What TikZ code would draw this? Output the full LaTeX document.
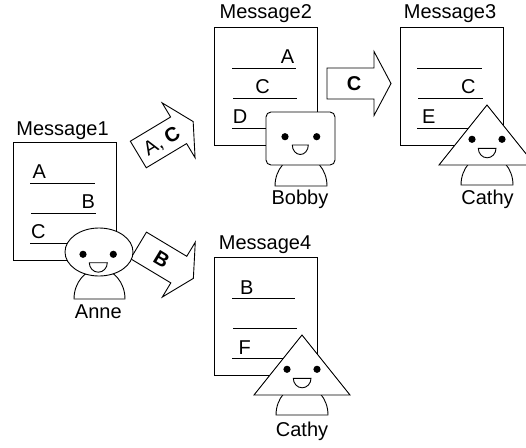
\documentclass[tikz,border=0pt]{standalone}
\usepackage{fontspec}
\setmainfont{Liberation Sans}
\usetikzlibrary{shapes.geometric}
\begin{document}
\begin{tikzpicture}[x=1pt,y=-1pt,
  font=\fontsize{20}{24}\selectfont,
  msgbox/.style={draw, line width=0.9pt, fill=white, inner sep=0pt,
    minimum width=103pt, minimum height=118pt, anchor=north west},
  rule/.style={line width=0.8pt},
  lbl/.style={inner sep=0pt, anchor=base},
  fig/.style={draw, line width=0.9pt, fill=white},
  head/.style={fig, inner sep=0pt},
  eye/.style={fill=black},
  blockarrow/.style={draw, line width=0.9pt, fill=white, line join=miter},
  arrowtext/.style={inner sep=0pt, text height=14pt, text depth=0pt},
  pics/sendarrow/.style={code={
    \draw[blockarrow] (0,-15.5) -- (47,-15.5) -- (47,-32) -- (64,0)
      -- (47,32) -- (47,15.5) -- (0,15.5) -- cycle;}}
]
\clip (0,0) rectangle (526,447);

% ---------- block arrows (drawn first, faces overlap them) ----------
\pic[rotate=31] at (138.3,154.5) {sendarrow};
\node[arrowtext, rotate=31] (lab-ac) at (161.4,140.6) {A, \textbf{C}};
\pic[rotate=-31] at (138.5,245.4) {sendarrow};
\node[arrowtext, rotate=-31] (lab-b) at (161.6,259.3) {\textbf{B}};
\pic at (327,83.5) {sendarrow};
\node[arrowtext] (lab-c) at (354,83.5) {\textbf{C}};

% ---------- message boxes ----------
\node[msgbox] (m1) at (13,142) {};
\node[msgbox] (m2) at (214,27) {};
\node[msgbox] (m3) at (400,27) {};
\node[msgbox] (m4) at (214,257) {};

\node[lbl] (t1) at (62.5,135) {Message1};
\node[lbl] (t2) at (265.8,18) {Message2};
\node[lbl] (t3) at (450,18) {Message3};
\node[lbl] (t4) at (265,249) {Message4};

% Message1 entries
\draw[rule] (30,183) -- (95,183);
\draw[rule] (31,213) -- (96,213);
\draw[rule] (30,243) -- (95,243);
\node[lbl] (m1a) at (39.2,178.5) {A};
\node[lbl] (m1b) at (88.3,208.5) {B};
\node[lbl] (m1c) at (38.3,238.5) {C};

% Message2 entries
\draw[rule] (232,68) -- (296,68);
\draw[rule] (233,98) -- (297,98);
\draw[rule] (232,128) -- (296,128);
\node[lbl] (m2a) at (287.5,63.5) {A};
\node[lbl] (m2c) at (262.5,93.5) {C};
\node[lbl] (m2d) at (240,123.5) {D};

% Message3 entries
\draw[rule] (417,68) -- (482,68);
\draw[rule] (418,98) -- (483,98);
\draw[rule] (417,128) -- (482,128);
\node[lbl] (m3c) at (468.3,93.5) {C};
\node[lbl] (m3e) at (428.8,123.5) {E};

% Message4 entries
\draw[rule] (232,298.5) -- (295,298.5);
\draw[rule] (233,328.5) -- (297,328.5);
\draw[rule] (232,358.5) -- (295,358.5);
\node[lbl] (m4b) at (246.7,294) {B};
\node[lbl] (m4f) at (244.7,354) {F};

% ---------- Anne (round head) ----------
\draw[fig] (74,299) arc[start angle=180, end angle=360, x radius=25.5, y radius=30] -- cycle;
\node[head, ellipse, minimum width=68pt, minimum height=48pt] (anne) at (99,252) {};
\fill[eye] (83,254.3) circle[radius=3.6];
\fill[eye] (113.3,254.3) circle[radius=3.6];
\draw[fig] (89.3,262.7) -- (107.3,262.7) arc[start angle=0, end angle=180, x radius=9, y radius=9.5] -- cycle;
\node[lbl] (anne-name) at (98.3,318) {Anne};

% ---------- Bobby (square head) ----------
\draw[fig] (275,186) arc[start angle=180, end angle=360, x radius=26, y radius=30] -- cycle;
\node[head, rounded corners=5pt, minimum width=69pt, minimum height=53pt] (bobby) at (300.5,138.5) {};
\fill[eye] (285,136.7) circle[radius=3.6];
\fill[eye] (316.7,136.7) circle[radius=3.6];
\draw[fig] (292.3,145) -- (308.3,145) arc[start angle=0, end angle=180, x radius=8, y radius=9.5] -- cycle;
\node[lbl] (bobby-name) at (300,204) {Bobby};

% ---------- Cathy beside Message3 (triangle head) ----------
\draw[fig] (461,185) arc[start angle=180, end angle=360, x radius=26, y radius=30] -- cycle;
\draw[fig] (487,105) coordinate (cathy3) -- (535,165) -- (439,165) -- cycle;
\fill[eye] (472,139.3) circle[radius=3.6];
\fill[eye] (502,139.3) circle[radius=3.6];
\draw[fig] (478.3,148.3) -- (496,148.3) arc[start angle=0, end angle=180, x radius=8.85, y radius=9.5] -- cycle;
\node[lbl] (cathy3-name) at (487.5,204) {Cathy};

% ---------- Cathy beside Message4 (triangle head) ----------
\draw[fig] (276,415) arc[start angle=180, end angle=360, x radius=26, y radius=30] -- cycle;
\draw[fig] (302,335) coordinate (cathy4) -- (350,395) -- (254,395) -- cycle;
\fill[eye] (287,369.3) circle[radius=3.6];
\fill[eye] (317,369.3) circle[radius=3.6];
\draw[fig] (293.3,378.3) -- (311,378.3) arc[start angle=0, end angle=180, x radius=8.85, y radius=9.5] -- cycle;
\node[lbl] (cathy4-name) at (302,436) {Cathy};
\end{tikzpicture}
\end{document}
